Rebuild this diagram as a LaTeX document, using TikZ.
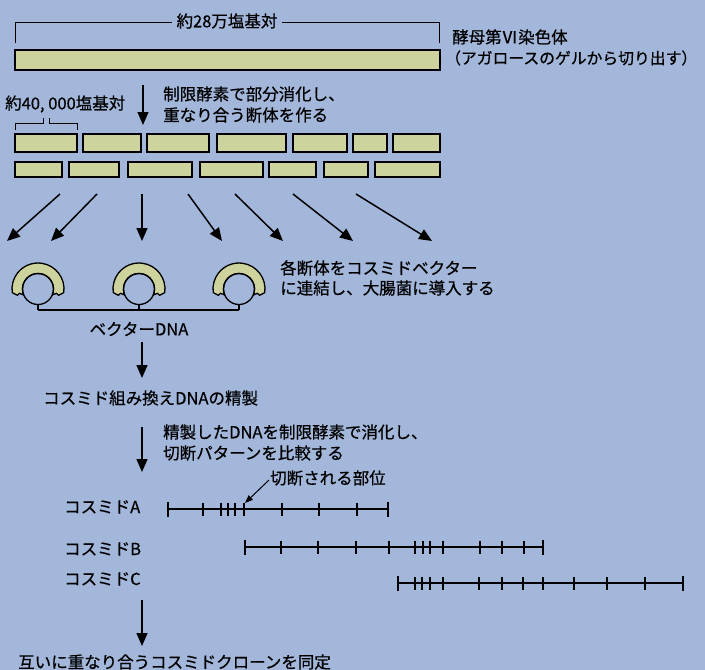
\documentclass[tikz,border=0pt]{standalone}
\usepackage{fontspec}
\newfontfamily\jp[FakeBold=0.6]{Noto Sans CJK JP}
\usetikzlibrary{arrows.meta}
\definecolor{bg}{RGB}{163,183,219}
\definecolor{barfill}{RGB}{206,211,158}
\tikzset{
  txt/.style={font=\jp\fontsize{16.5}{19}\selectfont, inner sep=0pt, anchor=west, text=black},
  bigarrow/.style={line width=1.5pt, -{Triangle[length=13pt,width=11pt]}},
  smallarrow/.style={line width=1pt, -{Triangle[length=8pt,width=6pt]}},
  fragbox/.style={draw=black, line width=1.9pt, fill=barfill},
  thinline/.style={line width=0.9pt},
  dnaline/.style={line width=1.4pt},
  ringline/.style={line width=1.3pt},
}
\begin{document}
\begin{tikzpicture}[x=1pt,y=1pt]
\fill[bg] (0,0) rectangle (705,-670);
\useasboundingbox (0,0) rectangle (705,-670);

% chromosome
\node[txt, anchor=center] (len28) at (227,-21) {約28万塩基対};
\draw[thinline] (15,-43) |- ([xshift=-4pt,yshift=-1pt]len28.west);
\draw[thinline] (439,-43) |- ([xshift=4pt,yshift=-1pt]len28.east);
\draw[fragbox] (15,-50) rectangle (440,-70);
\node[txt] (yeast) at (452,-37) {酵母第Ⅵ染色体};
\node[txt, font=\jp\fontsize{15.8}{19}\selectfont] (gel) at (445,-58) {（アガロースのゲルから切り出す）};

% partial digestion
\coordinate (a1s) at (143,-85);
\coordinate (a1e) at (143,-125);
\draw[bigarrow] (a1s) -- (a1e);
\node[txt] (dig1) at (163,-94) {制限酵素で部分消化し、};
\node[txt] (dig2) at (163,-115) {重なり合う断体を作る};
\node[txt] (len4) at (5,-104) {約40, 000塩基対};
\draw[thinline] (15,-130) -- (15,-123) -- (43,-123) -- (43,-118);
\draw[thinline] (49,-118) -- (49,-123) -- (77,-123) -- (77,-130);

\foreach \a/\b in {15/77,83/141,147/209,217/286,293/347,353/387,393/440}
  \draw[fragbox] (\a,-134) rectangle (\b,-152);
\foreach \a/\b in {15/62,69/119,128/192,200/263,269/316,324/368,375/440}
  \draw[fragbox] (\a,-162) rectangle (\b,-177);

\foreach \sx/\ex [count=\i] in {60/7,97/51,142/142,188/222,235/283,293/353,356/432}{
  \coordinate (fs\i) at (\sx,-194);
  \coordinate (fe\i) at (\ex,-241);
  \draw[bigarrow] (fs\i) -- (fe\i);
}

% cosmid vectors
\foreach \cx [count=\i] in {38,139,239}{
  \coordinate (c\i) at (\cx,-289);
  \coordinate (s\i) at (\cx,-310);
  \filldraw[fill=barfill, ringline, line join=round]
    ([shift={(-8:26)}]c\i) arc[start angle=-8, end angle=188, radius=26]
    -- ([shift={(197:21.5)}]c\i) -- ([shift={(193:19)}]c\i) -- ([shift={(203:15.5)}]c\i)
    arc[start angle=203, end angle=-23, radius=15.5]
    -- ([shift={(-13:19)}]c\i) -- ([shift={(-17:21.5)}]c\i) -- cycle;
  \draw[ringline] (c\i) circle[radius=15.5];
  \draw[ringline] ([yshift=-15.5pt]c\i) -- (s\i);
}
\draw[ringline] (s1) -- (s3);
\node[txt] (lig1) at (280,-268) {各断体をコスミドベクター};
\node[txt] (lig2) at (280,-288) {に連結し、大腸菌に導入する};
\node[txt, anchor=center] (vec) at (139,-329) {ベクターDNA};

\coordinate (a2s) at (142,-342);
\coordinate (a2e) at (142,-378);
\draw[bigarrow] (a2s) -- (a2e);
\node[txt] (purif) at (43,-398) {コスミド組み換えDNAの精製};

\coordinate (a3s) at (142,-427);
\coordinate (a3e) at (142,-472);
\draw[bigarrow] (a3s) -- (a3e);
\node[txt] (cmp1) at (163,-432) {精製したDNAを制限酵素で消化し、};
\node[txt] (cmp2) at (163,-453) {切断パターンを比較する};

% restriction maps
\node[txt] (labA) at (64,-507) {コスミドA};
\node[txt] (labB) at (64,-549) {コスミドB};
\node[txt] (labC) at (64,-579) {コスミドC};

\foreach \y/\l/\r/\ticks in {-509/168/388/{203,221,228,235,244,282,319,357},
                            -547/245/543/{281,318,356,389,415,423,430,443,480,502,524},
                            -583/398/683/{415,422,430,443,479,502,523,543,574,607,645}}{
  \draw[dnaline] (\l,\y) -- (\r,\y);
  \draw[dnaline] (\l,\y+7.5) -- (\l,\y-7.5);
  \draw[dnaline] (\r,\y+7.5) -- (\r,\y-7.5);
  \foreach \t in \ticks
    \draw[dnaline] (\t,\y+6.5) -- (\t,\y-6.5);
}
\node[txt] (cutsite) at (270,-478) {切断される部位};
\coordinate (cuttip) at (245,-503);
\draw[smallarrow] ([xshift=-1pt,yshift=-2pt]cutsite.west) -- (cuttip);

\coordinate (a4s) at (142,-600);
\coordinate (a4e) at (142,-646);
\draw[bigarrow] (a4s) -- (a4e);
\node[txt] (final) at (18,-662) {互いに重なり合うコスミドクローンを同定};
\end{tikzpicture}
\end{document}
